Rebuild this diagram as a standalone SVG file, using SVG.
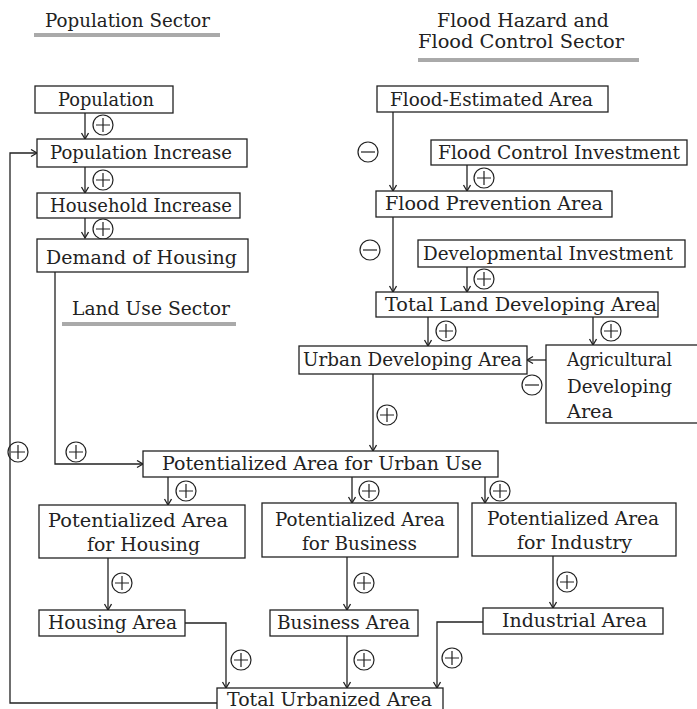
<svg xmlns="http://www.w3.org/2000/svg" width="697" height="709" viewBox="0 0 697 709">
<style>
.b{fill:#fff;stroke:#222;stroke-width:1.3}
.t{font-family:"DejaVu Serif","Liberation Serif",serif;font-size:18px;fill:#222}
.h{font-family:"DejaVu Serif","Liberation Serif",serif;font-size:18px;fill:#222}
.c{fill:none;stroke:#222;stroke-width:1.3}
.u{stroke:#555;stroke-width:1}
.s{fill:none;stroke:#222;stroke-width:1.2}
</style>
<defs>
<marker id="ar" markerUnits="userSpaceOnUse" markerWidth="10" markerHeight="10" refX="7" refY="4" orient="auto">
<path d="M1,0.5 L7,4 L1,7.5" fill="none" stroke="#222" stroke-width="1.3"/>
</marker>
<g id="plus"><circle r="10" class="s"/><path d="M-7,0H7M0,-7V7" class="s"/></g>
<g id="minus"><circle r="10" class="s"/><path d="M-7,0H7" class="s"/></g>
</defs>
<rect width="697" height="709" fill="#fff"/>
<g id="titles">
<text class="h" x="45" y="27" textLength="165" lengthAdjust="spacingAndGlyphs">Population Sector</text>
<line class="u" x1="34" y1="34" x2="220" y2="34"/><line class="u" x1="34" y1="36" x2="220" y2="36"/>
<text class="h" x="437" y="27" textLength="172" lengthAdjust="spacingAndGlyphs">Flood Hazard and</text>
<text class="h" x="418" y="48" textLength="206" lengthAdjust="spacingAndGlyphs">Flood Control Sector</text>
<line class="u" x1="418" y1="59" x2="639" y2="59"/><line class="u" x1="418" y1="61" x2="639" y2="61"/>
<text class="h" x="72" y="315" textLength="158" lengthAdjust="spacingAndGlyphs">Land Use Sector</text>
<line class="u" x1="62" y1="323" x2="236" y2="323"/><line class="u" x1="62" y1="325" x2="236" y2="325"/>
</g>
<g id="connectors">
<path class="c" marker-end="url(#ar)" d="M85,113V139"/>
<path class="c" marker-end="url(#ar)" d="M85,167V193"/>
<path class="c" marker-end="url(#ar)" d="M85,218V238"/>
<path class="c" marker-end="url(#ar)" d="M55,272V464H143"/>
<path class="c" marker-end="url(#ar)" d="M217,703H10V153H37"/>
<path class="c" marker-end="url(#ar)" d="M393,112V191"/>
<path class="c" marker-end="url(#ar)" d="M467,165V191"/>
<path class="c" marker-end="url(#ar)" d="M393,217V292"/>
<path class="c" marker-end="url(#ar)" d="M467,267V292"/>
<path class="c" marker-end="url(#ar)" d="M428,317V346"/>
<path class="c" marker-end="url(#ar)" d="M593,317V345"/>
<path class="c" marker-end="url(#ar)" d="M546,360H527"/>
<path class="c" marker-end="url(#ar)" d="M373,374V451"/>
<path class="c" marker-end="url(#ar)" d="M168,477V505"/>
<path class="c" marker-end="url(#ar)" d="M352,477V503"/>
<path class="c" marker-end="url(#ar)" d="M485,477V503"/>
<path class="c" marker-end="url(#ar)" d="M108,558V610"/>
<path class="c" marker-end="url(#ar)" d="M347,557V610"/>
<path class="c" marker-end="url(#ar)" d="M553,556V608"/>
<path class="c" marker-end="url(#ar)" d="M185,623H226V688"/>
<path class="c" marker-end="url(#ar)" d="M347,636V688"/>
<path class="c" marker-end="url(#ar)" d="M483,622H437V688"/>
<use href="#plus" x="103" y="125"/>
<use href="#plus" x="103" y="180"/>
<use href="#plus" x="103" y="229"/>
<use href="#plus" x="76" y="452"/>
<use href="#plus" x="18" y="452"/>
<use href="#minus" x="368" y="152"/>
<use href="#plus" x="484" y="178"/>
<use href="#minus" x="370" y="250"/>
<use href="#plus" x="484" y="279"/>
<use href="#plus" x="446" y="331"/>
<use href="#plus" x="611" y="331"/>
<use href="#minus" x="532" y="385"/>
<use href="#plus" x="387" y="415"/>
<use href="#plus" x="186" y="491"/>
<use href="#plus" x="369" y="491"/>
<use href="#plus" x="500" y="491"/>
<use href="#plus" x="122" y="583"/>
<use href="#plus" x="364" y="583"/>
<use href="#plus" x="567" y="582"/>
<use href="#plus" x="241" y="660"/>
<use href="#plus" x="364" y="660"/>
<use href="#plus" x="452" y="658"/>
</g>
<g id="population"><rect class="b" x="35" y="86" width="138" height="27"/><text class="t" x="58" y="106" textLength="96" lengthAdjust="spacingAndGlyphs">Population</text></g>
<g id="population-increase"><rect class="b" x="37" y="139" width="210" height="28"/><text class="t" x="50" y="159" textLength="182" lengthAdjust="spacingAndGlyphs">Population Increase</text></g>
<g id="household-increase"><rect class="b" x="37" y="193" width="203" height="25"/><text class="t" x="50" y="212" textLength="182" lengthAdjust="spacingAndGlyphs">Household Increase</text></g>
<g id="demand-housing"><rect class="b" x="37" y="239" width="211" height="33"/><text class="t" x="46" y="264" textLength="191" lengthAdjust="spacingAndGlyphs">Demand of Housing</text></g>
<g id="flood-estimated"><rect class="b" x="377" y="86" width="231" height="26"/><text class="t" x="390" y="106" textLength="203" lengthAdjust="spacingAndGlyphs">Flood-Estimated Area</text></g>
<g id="flood-control-investment"><rect class="b" x="431" y="140" width="256" height="25"/><text class="t" x="438" y="159" textLength="242" lengthAdjust="spacingAndGlyphs">Flood Control Investment</text></g>
<g id="flood-prevention"><rect class="b" x="376" y="191" width="236" height="26"/><text class="t" x="385" y="210" textLength="218" lengthAdjust="spacingAndGlyphs">Flood Prevention Area</text></g>
<g id="developmental-investment"><rect class="b" x="418" y="240" width="267" height="27"/><text class="t" x="423" y="260" textLength="250" lengthAdjust="spacingAndGlyphs">Developmental Investment</text></g>
<g id="total-land"><rect class="b" x="376" y="292" width="282" height="25"/><text class="t" x="385" y="311" textLength="272" lengthAdjust="spacingAndGlyphs">Total Land Developing Area</text></g>
<g id="urban-developing"><rect class="b" x="299" y="346" width="228" height="28"/><text class="t" x="303" y="366" textLength="219" lengthAdjust="spacingAndGlyphs">Urban Developing Area</text></g>
<g id="agricultural-developing"><rect class="b" x="546" y="345" width="160" height="78"/>
<text class="t" x="567" y="366" textLength="105" lengthAdjust="spacingAndGlyphs">Agricultural</text>
<text class="t" x="567" y="393" textLength="105" lengthAdjust="spacingAndGlyphs">Developing</text>
<text class="t" x="567" y="418" textLength="46" lengthAdjust="spacingAndGlyphs">Area</text></g>
<g id="potential-urban"><rect class="b" x="143" y="451" width="355" height="26"/><text class="t" x="162" y="470" textLength="320" lengthAdjust="spacingAndGlyphs">Potentialized Area for Urban Use</text></g>
<g id="potential-housing"><rect class="b" x="39" y="505" width="206" height="53"/>
<text class="t" x="48" y="527" textLength="180" lengthAdjust="spacingAndGlyphs">Potentialized Area</text>
<text class="t" x="87" y="551" textLength="113" lengthAdjust="spacingAndGlyphs">for Housing</text></g>
<g id="potential-business"><rect class="b" x="262" y="503" width="196" height="54"/>
<text class="t" x="275" y="526" textLength="170" lengthAdjust="spacingAndGlyphs">Potentialized Area</text>
<text class="t" x="302" y="550" textLength="115" lengthAdjust="spacingAndGlyphs">for Business</text></g>
<g id="potential-industry"><rect class="b" x="472" y="503" width="204" height="53"/>
<text class="t" x="487" y="525" textLength="172" lengthAdjust="spacingAndGlyphs">Potentialized Area</text>
<text class="t" x="517" y="549" textLength="115" lengthAdjust="spacingAndGlyphs">for Industry</text></g>
<g id="housing-area"><rect class="b" x="39" y="610" width="146" height="26"/><text class="t" x="48" y="629" textLength="129" lengthAdjust="spacingAndGlyphs">Housing Area</text></g>
<g id="business-area"><rect class="b" x="270" y="610" width="148" height="26"/><text class="t" x="277" y="629" textLength="133" lengthAdjust="spacingAndGlyphs">Business Area</text></g>
<g id="industrial-area"><rect class="b" x="483" y="608" width="180" height="26"/><text class="t" x="502" y="627" textLength="145" lengthAdjust="spacingAndGlyphs">Industrial Area</text></g>
<g id="total-urbanized"><rect class="b" x="217" y="688" width="226" height="30"/><text class="t" x="227" y="706" textLength="205" lengthAdjust="spacingAndGlyphs">Total Urbanized Area</text></g>
</svg>
